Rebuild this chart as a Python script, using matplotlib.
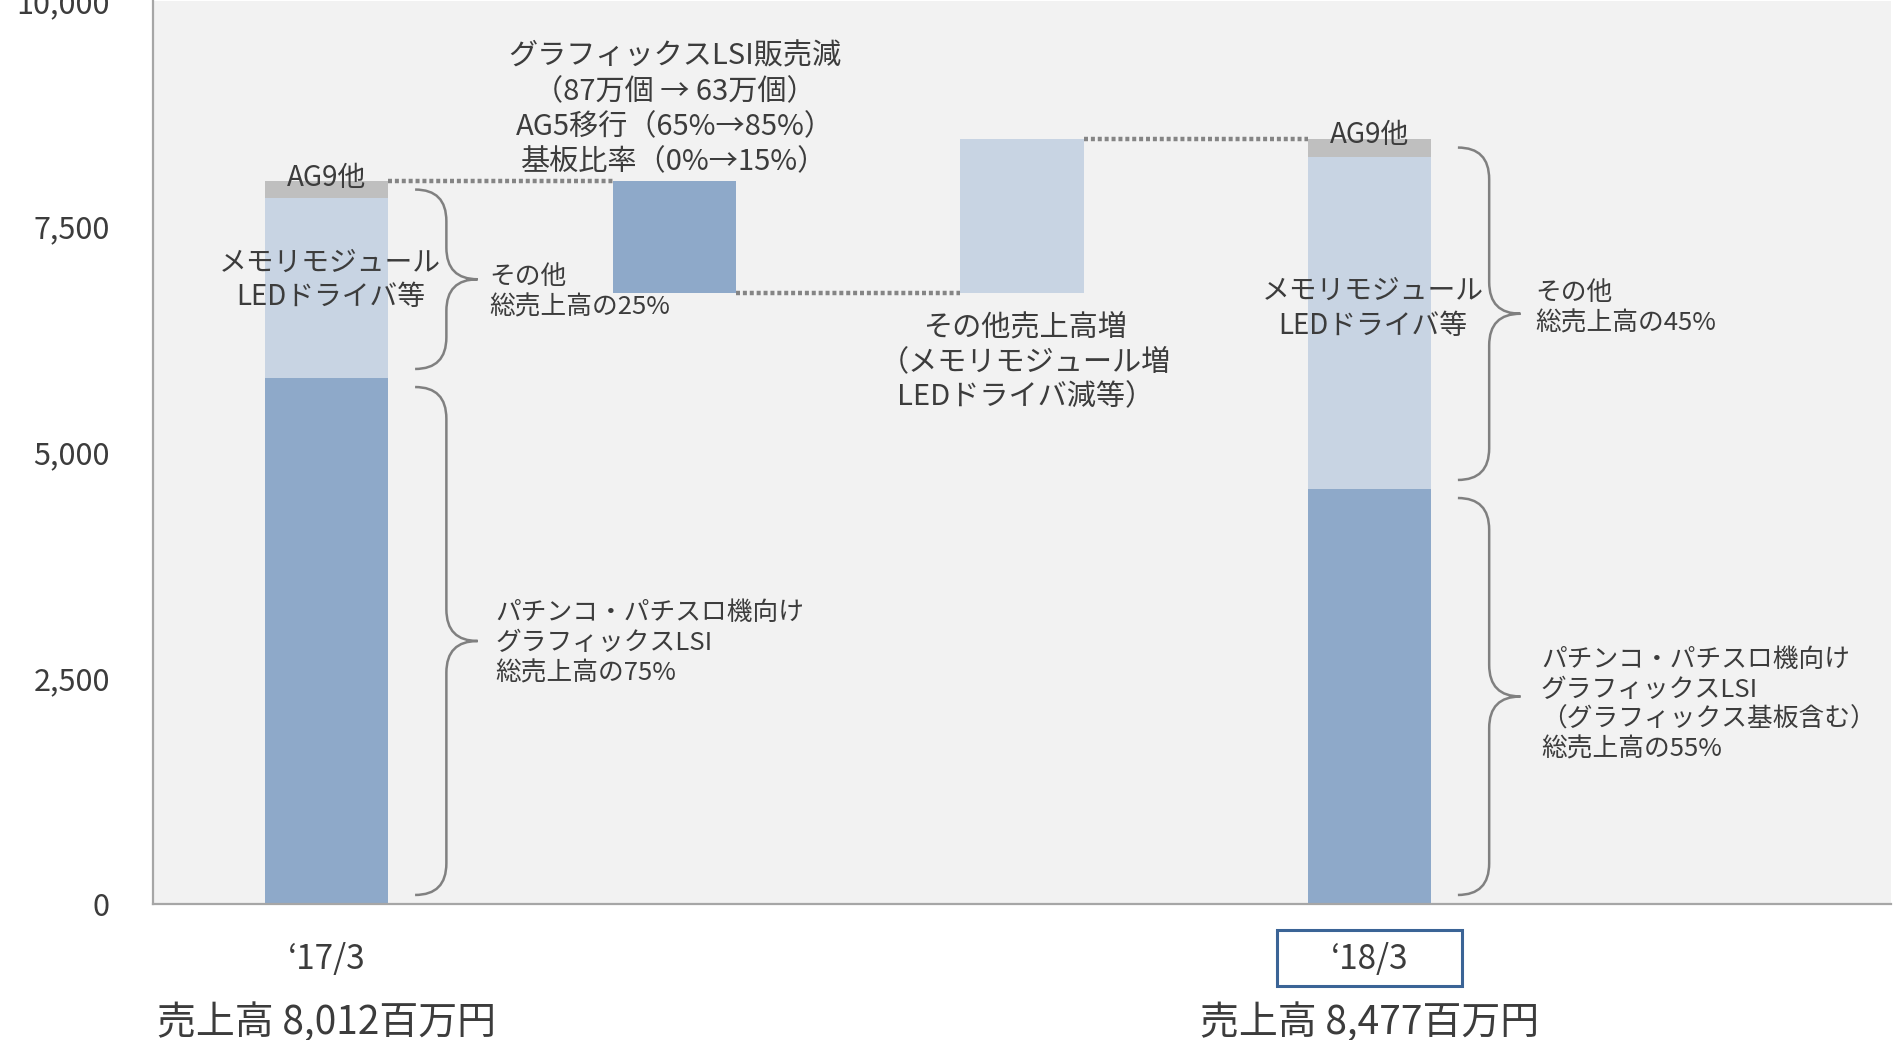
import numpy as np
import matplotlib.pyplot as plt
from matplotlib.path import Path
from matplotlib.patches import PathPatch, Rectangle
from matplotlib.transforms import blended_transform_factory

plt.rcParams['font.family'] = ['Noto Sans CJK JP', 'DejaVu Sans']

# 売上高（百万円）
periods = ['‘17/3', '‘18/3']
totals = [8012, 8477]
graphics = [5825, 4596]   # パチンコ・パチスロ機向けグラフィックスLSI
others = [1993, 3676]     # メモリモジュール・LEDドライバ等
ag9 = [194, 205]          # AG9他
graphics_drop = 1246      # グラフィックスLSI販売減
others_rise = 1711        # その他売上高増
yticks = [0, 2500, 5000, 7500, 10000]

dark = '#8EA9C9'
light = '#C8D4E3'
grey = '#BFBFBF'
txt = '#3C3C3C'
w = 0.355

fig = plt.figure(figsize=(18.93, 10.40), dpi=100)
ax = fig.add_axes([153 / 1893, 136 / 1040, 1738 / 1893, 903 / 1040])
ax.set_facecolor('#F2F2F2')

# stacked bars for the two years
ax.bar([0, 3], graphics, w, color=dark)
ax.bar([0, 3], others, w, bottom=graphics, color=light)
ax.bar([0, 3], ag9, w, bottom=np.add(graphics, others), color=grey)

# waterfall steps
mid = totals[0] - graphics_drop
ax.bar(1, graphics_drop, w, bottom=mid, color=dark)
ax.bar(2, others_rise, w, bottom=mid, color=light)

levels = [totals[0], mid, mid + others_rise]
for i, lv in enumerate(levels):
    ax.plot([i + w / 2, i + 1 - w / 2], [lv, lv], color='#858585', lw=3.2,
            ls=(0, (0.9, 0.65)), dash_capstyle='butt')


def brace(x0, y0, y1, width=0.18, r=350):
    xm = x0 + width / 2
    xt = x0 + width
    ym = (y0 + y1) / 2
    verts = [(x0, y1), (xm, y1), (xm, y1 - r), (xm, ym + r), (xm, ym), (xt, ym),
             (xm, ym), (xm, ym - r), (xm, y0 + r), (xm, y0), (x0, y0)]
    codes = [Path.MOVETO, Path.CURVE3, Path.CURVE3, Path.LINETO, Path.CURVE3, Path.CURVE3,
             Path.CURVE3, Path.CURVE3, Path.LINETO, Path.CURVE3, Path.CURVE3]
    ax.add_patch(PathPatch(Path(verts, codes), fill=False, ec='#808080', lw=1.8, clip_on=False))


gap = 100
for p, g, t in zip([0, 3], graphics, totals):
    brace(p + 0.254, gap, g - gap)
    brace(p + 0.254, g + gap, t - gap)

# labels on bars
ax.text(0, totals[0] + 30, 'AG9他', ha='center', va='center', fontsize=20, color=txt)
ax.text(3, totals[1] + 40, 'AG9他', ha='center', va='center', fontsize=20, color=txt)
ax.text(0.01, 6910, 'メモリモジュール\nLEDドライバ等', ha='center', va='center',
        fontsize=20, color=txt, linespacing=1.2)
ax.text(3.01, 6595, 'メモリモジュール\nLEDドライバ等', ha='center', va='center',
        fontsize=20, color=txt, linespacing=1.2)

ax.text(1.0, 8800, 'グラフィックスLSI販売減\n（87万個 → 63万個）\nAG5移行（65%→85%）\n基板比率（0%→15%）',
        ha='center', va='center', fontsize=21, color=txt, linespacing=1.22)
ax.text(2.01, 6000, 'その他売上高増\n（メモリモジュール増\nLEDドライバ減等）',
        ha='center', va='center', fontsize=21, color=txt, linespacing=1.2)

ax.text(0.467, 6777, 'その他\n総売上高の25%', ha='left', va='center',
        fontsize=18.5, color=txt, linespacing=1.2)
ax.text(0.484, 2890, 'パチンコ・パチスロ機向け\nグラフィックスLSI\n総売上高の75%', ha='left', va='center',
        fontsize=18.5, color=txt, linespacing=1.2)
ax.text(3.478, 6600, 'その他\n総売上高の45%', ha='left', va='center',
        fontsize=18.5, color=txt, linespacing=1.2)
ax.text(3.493, 2204, 'パチンコ・パチスロ機向け\nグラフィックスLSI\n（グラフィックス基板含む）\n総売上高の55%',
        ha='left', va='center', fontsize=18.5, color=txt, linespacing=1.2)

# period labels and sales totals below the axis
trans = blended_transform_factory(ax.transData, ax.transAxes)
for p, lab, t in zip([0, 3], periods, totals):
    ax.text(p, -0.061, lab, transform=trans, ha='center', va='center', fontsize=24, color=txt)
    ax.text(p, -0.132, f'売上高 {t:,}百万円', transform=trans, ha='center', va='center',
            fontsize=28, color=txt)
ax.add_patch(Rectangle((3 - 0.265, -0.0908), 0.53, 0.062, transform=trans, fill=False,
                       ec='#3B6496', lw=2.2, clip_on=False))

ax.set_xlim(-0.5, 4.5)
ax.set_ylim(0, 10000)
ax.set_xticks([])
ax.set_yticks(yticks, [f'{v:,}' for v in yticks])
ax.tick_params(axis='y', length=0, pad=31, labelsize=22, labelcolor=txt)
ax.spines[['top', 'right']].set_visible(False)
for s in ['left', 'bottom']:
    ax.spines[s].set_color('#A6A6A6')
    ax.spines[s].set_linewidth(1.6)

fig.savefig('out.png', dpi=100)
